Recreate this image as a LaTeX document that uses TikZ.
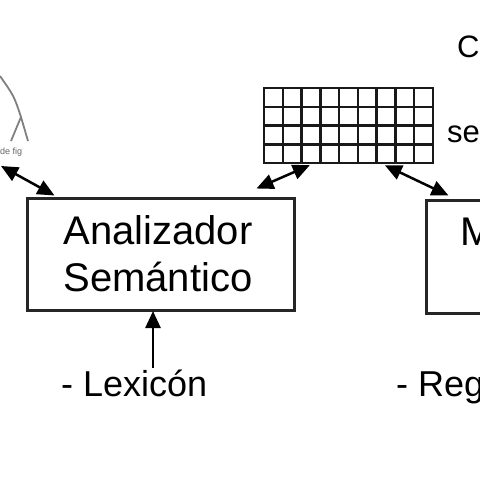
\documentclass[tikz,border=0pt]{standalone}
\usepackage{fontspec}
\setmainfont{Liberation Sans}
\usetikzlibrary{arrows.meta,calc}
\begin{document}
\begin{tikzpicture}[x=1pt,y=-1pt,
  boxst/.style={draw=black!85,line width=3pt,inner sep=0pt},
  bigtxt/.style={font=\fontsize{40}{47}\selectfont,align=center},
  midtxt/.style={font=\fontsize{36}{42}\selectfont,inner sep=0pt,anchor=base west},
  smtxt/.style={font=\fontsize{31}{36}\selectfont,inner sep=0pt,anchor=base west},
  conn/.style={line width=2.5pt,{Triangle[length=17pt,width=15pt]}-{Triangle[length=17pt,width=15pt]}},
  conn1/.style={line width=2.5pt,-{Triangle[length=17pt,width=15pt]}},
  treest/.style={draw=black!50,line width=1.8pt}]
\path[use as bounding box,clip] (0,0) rectangle (480,480);
\fill[white] (0,0) rectangle (480,480);
% boxes
\node[boxst,minimum width=267pt,minimum height=112pt] (A) at (160.5,254) {};
\node[bigtxt] (Atxt) at (158,254) {Analizador\\Semántico};
\node[boxst,minimum width=120pt,minimum height=113pt] (M) at (486,256.5) {};
\node[inner sep=0pt,anchor=base west,font=\fontsize{40}{47}\selectfont] (Mtxt) at (460,245) {M};
% grid
\node[inner sep=0pt,minimum width=169pt,minimum height=75pt] (G) at (348.5,125.5) {};
\draw[line width=2.5pt,black!90,xstep=18.78pt,ystep=18.75pt,shift={(264,88)}] (0,0) grid (169,75);
\draw[line width=2.5pt,black!90] (G.north west) rectangle (G.south east);
% tree
\coordinate (T0) at (0,76);
\coordinate (T2) at (21,117);
\coordinate (TL) at (11,141);
\coordinate (TR) at (28,141);
\draw[treest] (T0) .. controls (14,96) .. (T2) -- (TL);
\draw[treest] (T2) -- (TR);
\node[inner sep=0pt,anchor=base west,font=\fontsize{9}{10}\selectfont,text=black!60] (Ttxt) at (-2,154) {ide fig};
% texts
\node[midtxt] (Lex) at (61,396) {- Lexicón};
\node[midtxt] (Reg) at (396,396) {- Reg};
\node[smtxt] (C) at (457,57) {C};
\node[smtxt] (se) at (447,142) {se};
% connector anchors
\coordinate (tA) at (1,166);
\coordinate (A1) at ($(A.north west)+(29,-1)$);
\coordinate (A2) at ($(A.north west)+(231,-8)$);
\coordinate (G1) at ($(G.south west)+(46,2)$);
\coordinate (G2) at ($(G.south west)+(121,2)$);
\coordinate (M1) at ($(M.north west)+(24,-3)$);
\coordinate (L1) at (153,368);
\coordinate (A3) at (153,311);
\draw[conn] (tA) -- (A1);
\draw[conn] (G1) -- (A2);
\draw[conn] (G2) -- (M1);
\draw[conn1] (L1) -- (A3);
\end{tikzpicture}
\end{document}
